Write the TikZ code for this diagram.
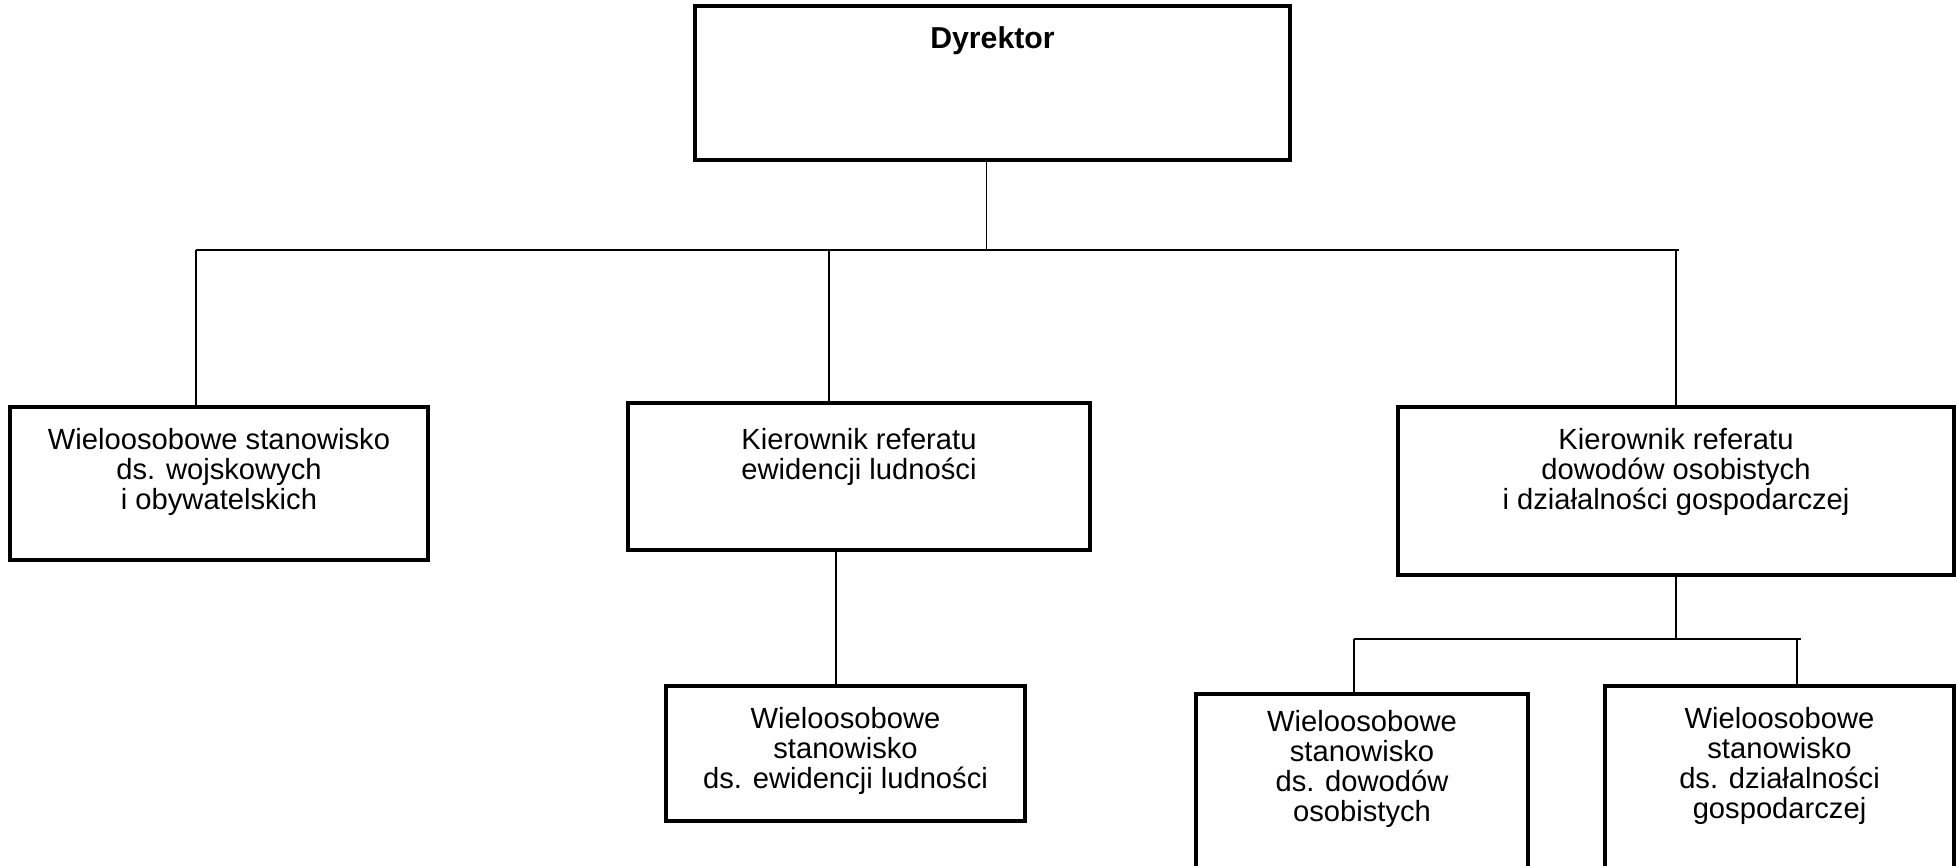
\documentclass[tikz,border=0pt]{standalone}
\usepackage{fontspec}
\setmainfont{Liberation Sans}
\usetikzlibrary{positioning}

\tikzset{
    unitbox/.style={draw, rectangle, line width=0.9pt, inner sep=0pt},
    unittext/.style={align=center, inner sep=0pt, font=\fontsize{8.3}{8.6}\selectfont},
    link/.style={line width=0.4pt}
}

\begin{document}
\begin{tikzpicture}
        \useasboundingbox (0,0) rectangle (19.57,-8.65);

        \node[unitbox, minimum width=5.95cm, minimum height=1.54cm] (dyr) at (9.925,-0.83) {};
        \node[unitbox, minimum width=4.18cm, minimum height=1.53cm] (wojsk) at (2.19,-4.835) {};
        \node[unitbox, minimum width=4.62cm, minimum height=1.47cm] (ewid) at (8.59,-4.765) {};
        \node[unitbox, minimum width=5.56cm, minimum height=1.68cm] (dowdz) at (16.76,-4.91) {};
        \node[unitbox, minimum width=3.59cm, minimum height=1.35cm] (ewidst) at (8.455,-7.535) {};
        \node[unitbox, minimum width=3.32cm, minimum height=1.86cm] (dowst) at (13.62,-7.87) {};
        \node[unitbox, minimum width=3.49cm, minimum height=1.94cm] (dzialst) at (17.795,-7.83) {};

        \node[unittext, font=\fontsize{8.6}{8.6}\selectfont\bfseries, below=0.21cm of dyr.north] (dyrt) {Dyrektor};
        \node[unittext, below=0.22cm of wojsk.north] (wojskt) {Wieloosobowe stanowisko\\ds. wojskowych\\i obywatelskich};
        \node[unittext, below=0.26cm of ewid.north] (ewidt) {Kierownik referatu\\ewidencji ludności};
        \node[unittext, below=0.22cm of dowdz.north] (dowdzt) {Kierownik referatu\\dowodów osobistych\\i działalności gospodarczej};
        \node[unittext, below=0.22cm of ewidst.north] (ewidstt) {Wieloosobowe\\stanowisko\\ds. ewidencji ludności};
        \node[unittext, below=0.17cm of dowst.north] (dowstt) {Wieloosobowe\\stanowisko\\ds. dowodów\\osobistych};
        \node[unittext, below=0.22cm of dzialst.north] (dzialstt) {Wieloosobowe\\stanowisko\\ds. działalności\\gospodarczej};

        \coordinate (busL) at (1.96,-2.50);
        \coordinate (busR) at (16.79,-2.50);
        \coordinate (busE) at (8.29,-2.50);
        \coordinate (subL) at (13.54,-6.39);
        \coordinate (subR) at (18.01,-6.39);
        \coordinate (subD) at (17.97,-6.39);

        \draw[link] (busL) -- (busR);
        \draw[link] ([xshift=-0.06cm]dyr.south) -- ([xshift=-0.06cm]dyr.south |- busL);
        \draw[link] (busL) -- (busL |- wojsk.north);
        \draw[link] (busE) -- (busE |- ewid.north);
        \draw[link] (dowdz.north |- busR) -- (dowdz.north);

        \draw[link] ([xshift=-0.23cm]ewid.south) -- ([xshift=-0.23cm]ewid.south |- ewidst.north);

        \draw[link] (subL) -- (subR);
        \draw[link] (dowdz.south) -- (dowdz.south |- subL);
        \draw[link] (subL) -- (subL |- dowst.north);
        \draw[link] (subD) -- (subD |- dzialst.north);

\end{tikzpicture}
\end{document}
